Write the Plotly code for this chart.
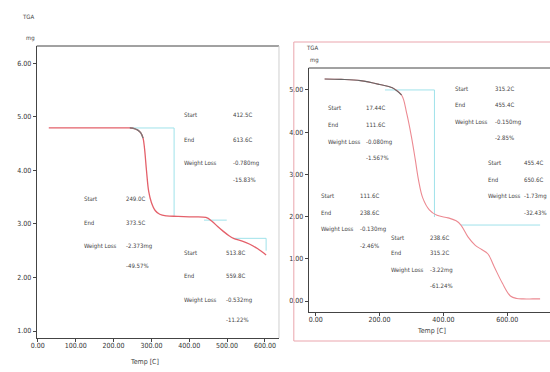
import plotly.graph_objects as go

W, H = 550, 372

# ---------------- Left panel data (sample 1) ----------------
left_temp = [29, 120, 200, 243, 255, 264, 272, 278, 282, 287, 293, 300, 310, 322, 340, 368, 400, 444,
             460, 475, 490, 505, 517, 540, 560, 580, 592, 603]
left_mass = [4.79, 4.79, 4.79, 4.79, 4.78, 4.75, 4.70, 4.60, 4.40, 4.00, 3.60, 3.40, 3.25, 3.18, 3.15, 3.14, 3.13, 3.12,
             3.05, 2.95, 2.86, 2.78, 2.73, 2.68, 2.62, 2.54, 2.48, 2.42]
left_gray_temp = [243, 255, 264, 272, 278]
left_gray_mass = [4.79, 4.78, 4.75, 4.70, 4.60]
# step (baseline) lines
left_step1_temp = [243, 360, 360]
left_step1_mass = [4.79, 4.79, 3.15]
left_step2_temp = [439, 499]
left_step2_mass = [3.07, 3.07]
left_step3_temp = [517, 603, 603]
left_step3_mass = [2.73, 2.73, 2.50]

# ---------------- Right panel data (sample 2) ----------------
right_temp = [28, 80, 140, 200, 240, 269, 285, 300, 312, 322, 335, 356, 380, 415, 440, 455, 477, 500,
              520, 539, 560, 585, 610, 630, 650, 680, 703]
right_mass = [5.26, 5.25, 5.22, 5.13, 5.05, 4.88, 4.45, 3.89, 3.35, 2.87, 2.45, 2.16, 2.03, 1.97, 1.90, 1.80, 1.52, 1.32,
              1.22, 1.12, 0.80, 0.42, 0.12, 0.06, 0.05, 0.05, 0.05]
right_gray_temp = [28, 80, 140, 200, 240, 269]
right_gray_mass = [5.26, 5.25, 5.22, 5.13, 5.05, 4.88]
right_step1_temp = [217, 372, 372]
right_step1_mass = [5.00, 5.00, 1.99]
right_step2_temp = [455, 703]
right_step2_mass = [1.80, 1.80]

# annotation blocks: (label_x_px, value_x_px, [row y px], values)
left_blocks = [
    (178, 227, [115, 139, 163, 179], ["412.5C", "613.6C", "-0.780mg", "-15.83%"]),
    (77, 119, [198, 222, 246, 265], ["249.0C", "373.5C", "-2.373mg", "-49.57%"]),
    (178, 220, [253, 275, 300, 319], ["513.8C", "559.8C", "-0.532mg", "-11.22%"]),
]
right_blocks = [
    (324, 362, [108, 125, 142, 157], ["17.44C", "111.6C", "-0.080mg", "-1.567%"]),
    (452, 492, [88, 105, 122, 137], ["315.2C", "455.4C", "-0.150mg", "-2.85%"]),
    (485, 522, [162, 179, 196, 212], ["455.4C", "650.6C", "-1.73mg", "-32.43%"]),
    (316, 356, [195, 212, 229, 245], ["111.6C", "238.6C", "-0.130mg", "-2.46%"]),
    (387, 427, [237, 253, 270, 285], ["238.6C", "315.2C", "-3.22mg", "-61.24%"]),
]
row_labels = ["Start", "End", "Weight Loss", ""]

RED = "#e4606a"
CYAN = "#9fe2ea"
FONT = "DejaVu Sans Condensed, Liberation Sans Narrow, Liberation Sans, sans-serif"


def px(x):
    return x / W


def py(y):
    return 1 - y / H


fig = go.Figure()

def line(xs, ys, color, width, ax, shape="linear"):
    fig.add_trace(go.Scatter(x=xs, y=ys, mode="lines", line=dict(color=color, width=width, shape=shape),
                             xaxis=ax[0], yaxis=ax[1], hoverinfo="skip"))

L = ("x", "y")
R = ("x2", "y2")
line(left_step1_temp, left_step1_mass, CYAN, 1, L)
line(left_step2_temp, left_step2_mass, CYAN, 1, L)
line(left_step3_temp, left_step3_mass, CYAN, 1, L)
line(left_temp, left_mass, RED, 1.3, L, "spline")
line(left_gray_temp, left_gray_mass, "#777777", 1.3, L, "spline")

line(right_step1_temp, right_step1_mass, CYAN, 1, R)
line(right_step2_temp, right_step2_mass, CYAN, 1, R)
line(right_temp, right_mass, "#ec8a92", 1.1, R, "spline")
line(right_gray_temp, right_gray_mass, "#666666", 1.1, R, "spline")

axis_common = dict(showgrid=False, zeroline=False, showline=True, linecolor="#444", linewidth=1,
                   ticks="outside", ticklen=3, tickcolor="#444", tickformat=".2f",
                   tickfont=dict(size=7, color="#333", family=FONT))

fig.update_layout(
    width=W, height=H, margin=dict(l=0, r=0, t=0, b=0),
    paper_bgcolor="white", plot_bgcolor="white", showlegend=False,
    xaxis=dict(domain=[px(31), px(276)], range=[-3, 637], tickvals=[0, 100, 200, 300, 400, 500, 600],
               anchor="y", ticklabelstandoff=-2, **axis_common),
    yaxis=dict(domain=[py(338), py(46)], range=[0.87, 6.32], tickvals=[1, 2, 3, 4, 5, 6],
               anchor="x", **axis_common),
    xaxis2=dict(domain=[px(306), px(550)], range=[-22, 734], tickvals=[0, 200, 400, 600],
                anchor="y2", ticklabelstandoff=-2, **axis_common),
    yaxis2=dict(domain=[py(312), py(68)], range=[-0.26, 5.52], tickvals=[0, 1, 2, 3, 4, 5],
                anchor="x2", **axis_common),
)

shapes = [
    # top border of left plot
    dict(type="line", xref="paper", yref="paper", x0=px(31), x1=px(276), y0=py(46), y1=py(46),
         line=dict(color="#444", width=1)),
    # right border of left plot (light)
    dict(type="line", xref="paper", yref="paper", x0=px(276), x1=px(276), y0=py(338), y1=py(46),
         line=dict(color="#cfcfcf", width=1)),
    # outer pink frame of right panel
    dict(type="rect", xref="paper", yref="paper", x0=px(291), x1=px(552), y0=py(341), y1=py(42),
         line=dict(color="#eaa5ad", width=1)),
    # top border of right plot
    dict(type="line", xref="paper", yref="paper", x0=px(306), x1=px(550), y0=py(68), y1=py(68),
         line=dict(color="#444", width=1)),
]
fig.update_layout(shapes=shapes)

ann = []


def txt(x, y, s, size=6, anchor="left"):
    ann.append(dict(xref="paper", yref="paper", x=px(x), y=py(y), text=s, showarrow=False,
                    xanchor=anchor, yanchor="middle", font=dict(size=size, color="#444", family=FONT)))


for lx, vx, rows, vals in left_blocks + right_blocks:
    for lab, yy, v in zip(row_labels, rows, vals):
        if lab:
            txt(lx, yy, lab)
        txt(vx, yy, v)

# axis titles / unit labels
txt(22, 17, "TGA", 6, "center")
txt(25, 38, "mg", 6, "center")
txt(140, 362, "Temp [C]", 7, "center")
txt(309, 47, "TGA", 6, "center")
txt(312, 60, "mg", 6, "center")
txt(430, 331, "Temp [C]", 7, "center")

fig.update_layout(annotations=ann)

fig.write_html("out.html", config={"displayModeBar": False},
               post_script="document.body.style.margin='0';document.body.style.padding='0';")
